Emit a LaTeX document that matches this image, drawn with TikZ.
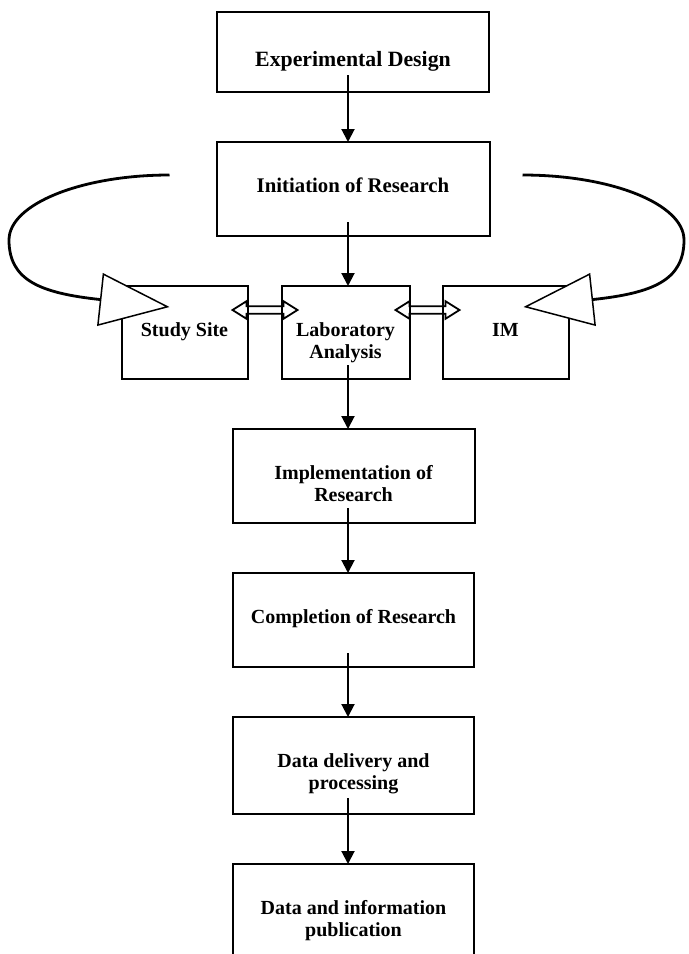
\documentclass[tikz,border=0pt]{standalone}
\usepackage{fontspec}
\setmainfont{Liberation Serif}
\usetikzlibrary{positioning,arrows.meta,calc}
\pgfdeclarelayer{background}
\pgfsetlayers{background,main}

% white two-headed block arrow between two points on one row
\newcommand{\twoway}[2]{%
  \draw[link] let \p1=(#1), \p2=(#2) in
    (\x1,\y1) -- (\x1+7pt,\y1+4.4pt) -- (\x1+7pt,\y1+1.9pt)
    -- (\x2-7pt,\y1+1.9pt) -- (\x2-7pt,\y1+4.4pt) -- (\x2,\y1)
    -- (\x2-7pt,\y1-4.4pt) -- (\x2-7pt,\y1-1.9pt)
    -- (\x1+7pt,\y1-1.9pt) -- (\x1+7pt,\y1-4.4pt) -- cycle;}

\begin{document}
\begin{tikzpicture}[
    x=0.5pt, y=-0.5pt, node distance=25pt,
    stage/.style={draw, line width=1pt, outer sep=0pt, inner sep=0pt, align=center,
      font=\bfseries\fontsize{10}{11}\selectfont, text height=25pt},
    twoline/.style={text height=36pt},
    flow/.style={line width=1pt, -{Triangle[length=6.5pt, width=6.5pt]}},
    link/.style={line width=0.9pt, fill=white},
    feedback/.style={line width=1.4pt, -{Triangle[length=35pt, width=26.5pt, fill=white, line width=0.75pt]}}
]
\useasboundingbox (0,0) rectangle (689,954);
\clip (0,0) rectangle (689,954);

\node[stage, anchor=north, minimum width=136pt, text height=27pt, text depth=13pt,
  font=\bfseries\fontsize{10.9}{12}\selectfont] (design) at (353,12) {Experimental Design};
\node[stage, below=of design, minimum width=136.5pt, text depth=22pt,
  font=\bfseries\fontsize{10.4}{12}\selectfont] (init) {Initiation of Research};
\node[stage, twoline, below=of init, xshift=-3.75pt, minimum width=64pt, text depth=10.5pt] (lab) {Laboratory\\Analysis};
\node[stage, left=17pt of lab, minimum width=63pt, text depth=21.5pt] (site) {Study Site};
\node[stage, right=16.5pt of lab, minimum width=63pt, text depth=21.5pt] (im) {IM};
\node[stage, twoline, below=of lab, xshift=4pt, minimum width=121pt, text depth=11pt] (impl) {Implementation of\\Research};
\node[stage, below=of impl, minimum width=120.5pt, text depth=22pt] (compl) {Completion of Research};
\node[stage, twoline, below=of compl, minimum width=120.5pt, text depth=12.5pt] (deliv) {Data delivery and\\processing};
\node[stage, twoline, below=of deliv, minimum width=120.5pt, text depth=11pt] (publ) {Data and information\\publication};

\coordinate (spine) at (348,0);
\draw[flow] ([yshift=8.5pt]design.south -| spine) -- (init.north -| spine);
\draw[flow] ([yshift=7pt]init.south -| spine) -- (lab.north -| spine);
\draw[flow] ([yshift=7pt]lab.south -| spine) -- (impl.north -| spine);
\draw[flow] ([yshift=7.5pt]impl.south -| spine) -- (compl.north -| spine);
\draw[flow] ([yshift=7pt]compl.south -| spine) -- (deliv.north -| spine);
\draw[flow] ([yshift=8pt]deliv.south -| spine) -- (publ.north -| spine);

\begin{pgfonlayer}{background}
\twoway{[shift={(-7.5pt,-12pt)}]site.north east}{[shift={(8pt,-12pt)}]lab.north west}
\twoway{[shift={(-7pt,-12pt)}]lab.north east}{[shift={(8.5pt,-12pt)}]im.north west}
\end{pgfonlayer}

% loops back from the initiation stage
\coordinate (lfar) at (9,240);
\coordinate (rfar) at (684,240);
\draw[feedback] ([shift={(-23.5pt,7pt)}]init.west) .. controls +(-88,0) and +(0,-36) .. (lfar)
  .. controls +(0,40) and +(-130,-14) .. ([shift={(24pt,-10.5pt)}]site.north west);
\draw[feedback] ([shift={(16.5pt,7pt)}]init.east) .. controls +(89,0) and +(0,-36) .. (rfar)
  .. controls +(0,40) and +(130,-14) .. ([shift={(-22.5pt,-10.5pt)}]im.north east);

\end{tikzpicture}
\end{document}
